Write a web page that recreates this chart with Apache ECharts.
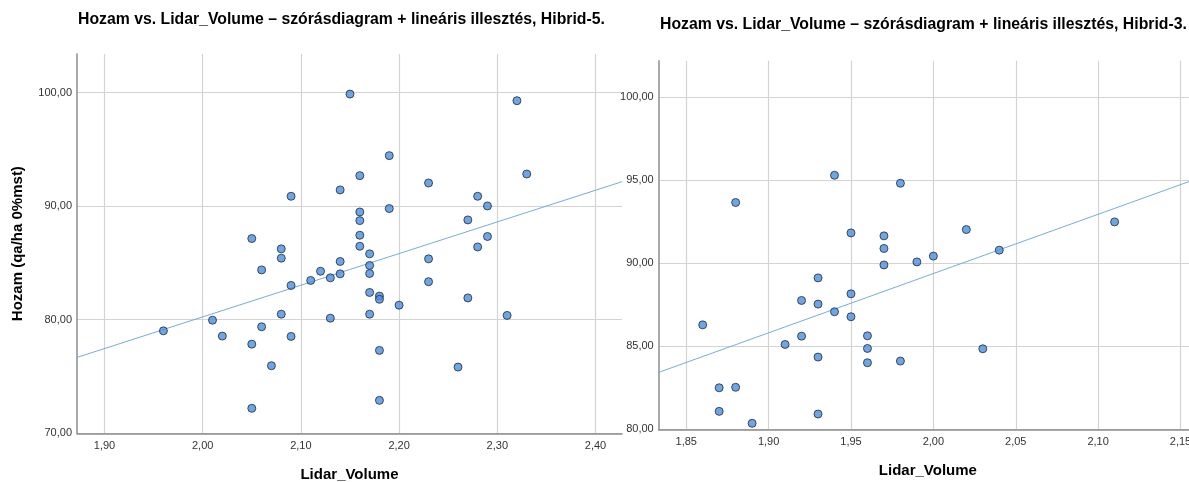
<!DOCTYPE html>
<html>
<head>
<meta charset="utf-8">
<script src="https://cdn.jsdelivr.net/npm/echarts@6/dist/echarts.min.js"></script>
<style>
html,body{margin:0;padding:0;background:#fff;}
#c{width:1189px;height:482px;}
</style>
</head>
<body>
<div id="c"></div>
<script>
// ---- Data: Hibrid-5 (left) ----
var h5Lidar = [1.96,2.01,2.02,2.05,2.05,2.05,2.06,2.06,2.07,2.08,2.08,2.08,2.09,2.09,2.09,2.11,2.12,2.13,2.13,2.14,2.14,2.14,2.15,2.16,2.16,2.16,2.16,2.16,2.17,2.17,2.17,2.17,2.17,2.18,2.18,2.18,2.18,2.19,2.19,2.20,2.23,2.23,2.23,2.26,2.27,2.27,2.28,2.28,2.29,2.29,2.31,2.32,2.33];
var h5Hozam = [79.02,79.96,78.56,87.15,77.85,72.20,84.39,79.38,75.95,86.24,85.42,80.49,90.87,83.02,78.53,83.46,84.27,83.69,80.14,91.43,85.13,84.04,99.87,92.69,89.49,88.73,87.44,86.47,85.80,84.78,84.07,82.40,80.49,82.08,81.80,77.30,72.90,94.45,89.79,81.28,92.04,85.36,83.35,75.83,88.79,81.92,90.87,86.41,90.02,87.33,80.38,99.29,92.83];
var h5Fit = [24.49, 27.88]; // intercept, slope
var h5XTicks = [1.9,2.0,2.1,2.2,2.3,2.4];
var h5YTicks = [70,80,90,100];

// ---- Data: Hibrid-3 (right) ----
var h3Lidar = [1.86,1.87,1.87,1.88,1.88,1.89,1.91,1.92,1.92,1.93,1.93,1.93,1.93,1.94,1.94,1.95,1.95,1.95,1.96,1.96,1.96,1.97,1.97,1.97,1.98,1.98,1.99,2.00,2.02,2.03,2.04,2.11];
var h3Hozam = [86.29,82.50,81.08,93.66,82.53,80.36,85.11,87.76,85.61,89.12,87.54,84.35,80.92,95.30,87.08,91.83,88.16,86.78,85.63,84.87,84.01,91.65,90.89,89.90,94.82,84.11,90.08,90.43,92.03,84.85,90.79,92.49];
var h3Fit = [17.98, 35.7];
var h3XTicks = [1.85,1.90,1.95,2.00,2.05,2.10,2.15];
var h3YTicks = [80,85,90,95,100];

var titles = ['Hozam vs. Lidar_Volume \u2013 szórásdiagram + lineáris illesztés, Hibrid-5.',
              'Hozam vs. Lidar_Volume \u2013 szórásdiagram + lineáris illesztés, Hibrid-3.'];
var xName = 'Lidar_Volume';
var yName = 'Hozam (qa/ha 0%mst)';

var ranges = {
  h5x:[1.872, 2.427], h5y:[70, 103.4],
  h3x:[1.8333, 2.16], h3y:[80, 102.2]
};

function pairs(xs, ys){ return xs.map(function(x,i){return [x, ys[i]];}); }
function fitLine(fit, r){ return [[r[0], fit[0]+fit[1]*r[0]], [r[1], fit[0]+fit[1]*r[1]]]; }
function fmt(d){ return function(v){ return v.toFixed(d).replace('.', ','); }; }

var FONT = '"Liberation Sans", Arial, sans-serif';
var gridLineColor = '#d3d3d3';
var axisLineColor = '#8c8c8c';

function xAxis(idx, r, ticks){
  return {
    type:'value', gridIndex:idx, min:r[0], max:r[1],
    name: xName, nameLocation:'middle', nameGap:34,
    nameTextStyle:{fontFamily:FONT, fontSize:15, fontWeight:'bold', color:'#000'},
    axisLine:{show:true, onZero:false, lineStyle:{color:axisLineColor, width:1.5}},
    axisTick:{show:false, customValues:ticks},
    axisLabel:{customValues:ticks, formatter:fmt(2), fontFamily:FONT, fontSize:11, color:'#333', margin:7},
    splitLine:{show:true, lineStyle:{color:gridLineColor, width:1.2}}
  };
}
function yAxis(idx, r, ticks, withName){
  var a = {
    type:'value', gridIndex:idx, min:r[0], max:r[1],
    axisLine:{show:true, onZero:false, lineStyle:{color:axisLineColor, width:1.5}},
    axisTick:{show:false, customValues:ticks},
    axisLabel:{customValues:ticks, formatter:fmt(2), fontFamily:FONT, fontSize:11, color:'#333', margin:5},
    splitLine:{show:true, lineStyle:{color:gridLineColor, width:1.2}}
  };
  if(withName){
    a.name = yName; a.nameLocation='middle'; a.nameGap=52; a.nameRotate=90;
    a.nameTextStyle={fontFamily:FONT, fontSize:15, fontWeight:'bold', color:'#000'};
  }
  return a;
}

var pointStyle = {color:'#4a8ee0', borderColor:'#1f2a36', borderWidth:1};
var lineStyle = {color:'#74aaea', width:1};

var chart = echarts.init(document.getElementById('c'), null, {renderer:'canvas'});
chart.setOption({
  animation:false,
  backgroundColor:'#fff',
  title:[
    {text:titles[0], left:78, top:12, padding:0, textStyle:{fontFamily:FONT, fontSize:15.8, fontWeight:'bold', color:'#000'}},
    {text:titles[1], left:660, top:17, padding:0, textStyle:{fontFamily:FONT, fontSize:15.8, fontWeight:'bold', color:'#000'}}
  ],
  grid:[
    {left:77, top:54, width:545, height:379.3, outerBoundsMode:'none'},
    {left:658.7, top:60.7, width:538.3, height:368.6, outerBoundsMode:'none'}
  ],
  xAxis:[xAxis(0, ranges.h5x, h5XTicks), xAxis(1, ranges.h3x, h3XTicks)],
  yAxis:[yAxis(0, ranges.h5y, h5YTicks, true), yAxis(1, ranges.h3y, h3YTicks, false)],
  series:[
    {type:'line', xAxisIndex:0, yAxisIndex:0, data:fitLine(h5Fit, ranges.h5x), symbol:'none', lineStyle:lineStyle, clip:true, z:2},
    {type:'line', xAxisIndex:1, yAxisIndex:1, data:fitLine(h3Fit, ranges.h3x), symbol:'none', lineStyle:lineStyle, clip:true, z:2},
    {type:'scatter', xAxisIndex:0, yAxisIndex:0, data:pairs(h5Lidar, h5Hozam), symbolSize:8, itemStyle:pointStyle, z:3},
    {type:'scatter', xAxisIndex:1, yAxisIndex:1, data:pairs(h3Lidar, h3Hozam), symbolSize:8, itemStyle:pointStyle, z:3}
  ]
});
</script>
</body>
</html>
